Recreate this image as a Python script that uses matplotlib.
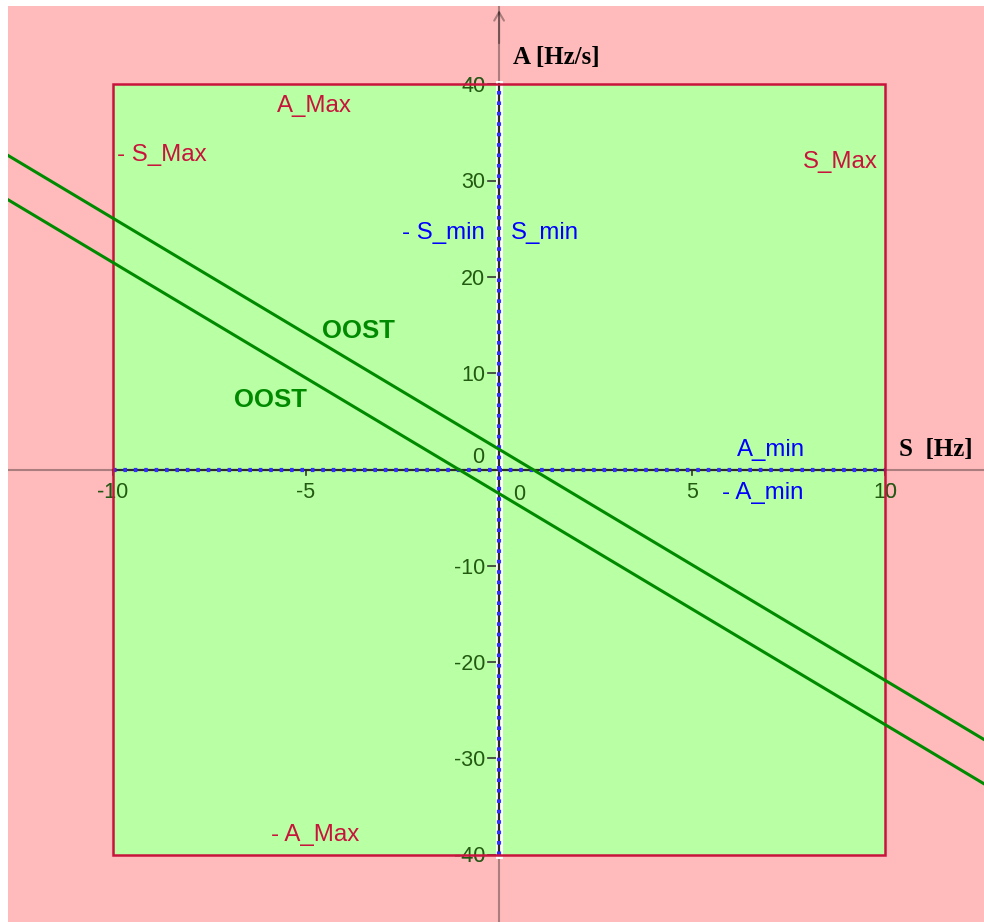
"""
Operating region in the S/A plane: allowed box, min dead-bands and the OOST lines.
"""
import matplotlib
matplotlib.use("Agg")
import matplotlib.pyplot as plt
from matplotlib.patches import Rectangle
import numpy as np

# limits of the allowed region
S_MAX = 10      # Hz
A_MAX = 40      # Hz/s

# out-of-step lines A = slope * S + intercept
OOST_SLOPE = -2.4
OOST_INTERCEPTS = [2.1, -2.5]

X_TICKS = [-10, -5, 5, 10]
Y_TICKS = [-40, -30, -20, -10, 10, 20, 30, 40]

PINK = "#ffbbbb"
GREEN = "#b9ffa3"
CRIMSON = "#c8143c"
BLUE = "#0000ff"
LINE_GREEN = "#008a00"

SANS = "Liberation Sans"
SERIF = "Liberation Serif"


def main() -> None:
    fig = plt.figure(figsize=(9.84, 9.22), dpi=100)
    fig.patch.set_facecolor("white")
    ax = fig.add_axes([8 / 984, 0, 976 / 984, 916 / 922])
    ax.set_xlim(-12.72, 12.56)
    ax.set_ylim(-47.0, 48.15)
    ax.set_axis_off()

    # forbidden area everywhere
    ax.add_patch(Rectangle((0, 0), 1, 1, transform=ax.transAxes,
                           facecolor=PINK, edgecolor="none", zorder=0))

    # axes (faint, full length)
    ax.axhline(0, color="black", alpha=0.33, lw=1.5, zorder=1)
    ax.axvline(0, color="black", alpha=0.33, lw=1.5, zorder=1)
    ax.annotate("", xy=(12.6, 0), xytext=(11.8, 0),
                arrowprops=dict(arrowstyle="->,head_length=0.6,head_width=0.35",
                                color="black", alpha=0.33, lw=1.5), zorder=1)
    ax.annotate("", xy=(0, 48.0), xytext=(0, 44),
                arrowprops=dict(arrowstyle="->,head_length=0.6,head_width=0.35",
                                color="black", alpha=0.33, lw=1.5), zorder=1)

    # allowed box
    box = Rectangle((-S_MAX, -A_MAX), 2 * S_MAX, 2 * A_MAX,
                    facecolor=GREEN, edgecolor="none", zorder=2)
    ax.add_patch(box)

    # tick marks and labels: faint copy outside, dark green copy inside the box
    def tick_text(x, y, s, **kw):
        ax.text(x, y, s, color="#957474", fontsize=15.5, family=SANS, zorder=1, **kw)
        t = ax.text(x, y, s, color="#235a12", fontsize=15.5, family=SANS, zorder=3, **kw)
        t.set_clip_path(box)

    for xt in X_TICKS:
        ax.plot([xt, xt], [0, -0.6], color="#333333", lw=1.2, zorder=3)
        tick_text(xt, -2.95, str(xt), ha="center", va="baseline")
    for yt in Y_TICKS:
        ax.plot([0, -0.28], [yt, yt], color="#333333", lw=1.2, zorder=3)
        tick_text(-0.36, yt - 0.8, str(yt), ha="right", va="baseline")
    tick_text(-0.38, 0.68, "0", ha="right", va="baseline")
    tick_text(0.36, -3.2, "0", ha="left", va="baseline")

    # dead-band along the axes (S_min, A_min)
    ax.plot([0, 0], [-A_MAX, A_MAX], color="white", lw=5.0, zorder=3)
    ax.plot([-S_MAX, S_MAX], [0, 0], color="#2a2a2a", lw=1.6, zorder=3.2)
    ax.plot([0, 0], [-A_MAX, A_MAX], color="#2a2a2a", lw=1.6, zorder=3.2)
    dots = dict(color="#2f2fff", lw=3.0, linestyle=(0, (0.85, 1.65)),
                solid_capstyle="butt", zorder=3.4)
    ax.plot([0, 0], [-A_MAX, A_MAX], **dots)
    ax.plot([-S_MAX, S_MAX], [0, 0], **dots)

    # box outline
    ax.add_patch(Rectangle((-S_MAX, -A_MAX), 2 * S_MAX, 2 * A_MAX,
                           fill=False, edgecolor=CRIMSON, lw=1.8, zorder=4))

    # OOST lines
    xs = np.array(ax.get_xlim())
    for b in OOST_INTERCEPTS:
        ax.plot(xs, OOST_SLOPE * xs + b, color=LINE_GREEN, lw=2.2, zorder=5)

    # labels
    lab = dict(fontsize=17.3, family=SANS, va="baseline", zorder=6)
    ax.text(-4.79, 37.14, "A_Max", color=CRIMSON, ha="center", **lab)
    ax.text(-5.91, -38.6, "- A_Max", color=CRIMSON, ha="left", **lab)
    ax.text(-9.90, 32.05, "- S_Max", color=CRIMSON, ha="left", **lab)
    ax.text(9.82, 31.32, "S_Max", color=CRIMSON, ha="right", **lab)
    ax.text(-0.36, 23.94, "- S_min", color=BLUE, ha="right", **lab)
    ax.text(0.31, 23.94, "S_min", color=BLUE, ha="left", **lab)
    ax.text(6.17, 1.40, "A_min", color=BLUE, ha="left", **lab)
    ax.text(5.78, -3.06, "- A_min", color=BLUE, ha="left", **lab)

    oost = dict(fontsize=18.5, family=SANS, fontweight="bold", color=LINE_GREEN,
                ha="center", va="baseline", zorder=6)
    ax.text(-3.65, 13.66, "OOST", **oost)
    ax.text(-5.93, 6.54, "OOST", **oost)

    axis_lab = dict(fontsize=18, family=SERIF, fontweight="bold", color="black",
                    ha="left", va="baseline", zorder=6)
    ax.text(0.36, 42.17, "A [Hz/s]", **axis_lab)
    ax.text(10.36, 1.45, "S  [Hz]", **axis_lab)

    fig.savefig("out.png", dpi=100)
    plt.close(fig)


if __name__ == "__main__":
    main()
